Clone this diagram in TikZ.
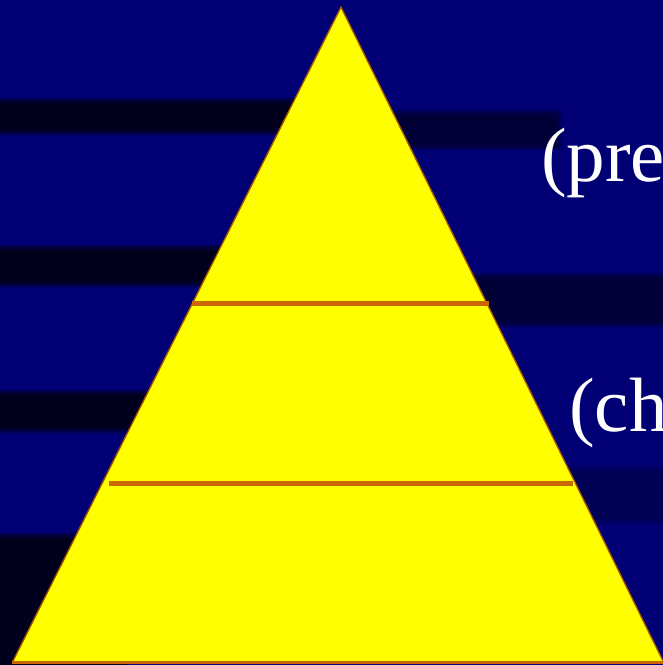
\documentclass[tikz,border=0pt]{standalone}
\usepackage{fontspec}
\setmainfont{Liberation Serif}
\definecolor{navybg}{HTML}{000074}
\definecolor{shade}{HTML}{00000A}
\definecolor{shaderight}{HTML}{00002A}
\definecolor{pyryellow}{HTML}{FFFF00}
\definecolor{pyrorange}{HTML}{CC6600}
\tikzset{
  softband/.style={fill=#1, fill opacity=0.35, draw=none},
  levelline/.style={draw=pyrorange, line width=5pt},
  pyredge/.style={draw=pyrorange!80!black, line width=1.3pt, line join=miter},
  bigtext/.style={text=white, font=\fontsize{77}{84}\selectfont, inner sep=0pt, anchor=base west}
}
\begin{document}
\begin{tikzpicture}[x=1pt,y=-1pt]
\useasboundingbox (0,0) rectangle (663,665);
\clip (0,0) rectangle (663,665);
\fill[navybg] (0,0) rectangle (663,665);
% shadow bands (soft edges)
\foreach \d in {7,5,3,1} {
  \fill[softband=shade] (-10,105-\d) rectangle (300+\d,128+\d);
  \fill[softband=shaderight] (380,117-\d) rectangle (555+\d,143+\d);
  \fill[softband=shade] (-10,252-\d) rectangle (230+\d,280+\d);
  \fill[softband=shaderight] (470,280-\d) rectangle (680,320+\d);
  \fill[softband=shade] (-10,397-\d) rectangle (160+\d,426+\d);
  \fill[softband=shaderight, fill opacity=0.12] (560,472-\d) rectangle (680,518+\d);
  \fill[softband=shade] (-10,540-\d) rectangle (120+\d,680);
}
% pyramid
\coordinate (apex) at (341,7);
\coordinate (bl) at (13,661);
\coordinate (br) at (663,661);
\fill[pyryellow] (apex) -- (bl) -- (br) -- cycle;
\draw[pyredge] (bl) -- (apex) -- (br);
\draw[draw=pyrorange, line width=3pt] (12,662.5) -- (663,662.5);
% level lines
\coordinate (l1a) at (192,303);
\coordinate (l1b) at (489,303);
\coordinate (l2a) at (109,483);
\coordinate (l2b) at (573,483);
\draw[levelline] (l1a) -- (l1b);
\draw[levelline] (l2a) -- (l2b);
% labels (cut by the right edge)
\node[bigtext] (pre) at (541,181) {(pre};
\node[bigtext] (ch) at (569,431) {(ch};
\end{tikzpicture}
\end{document}
